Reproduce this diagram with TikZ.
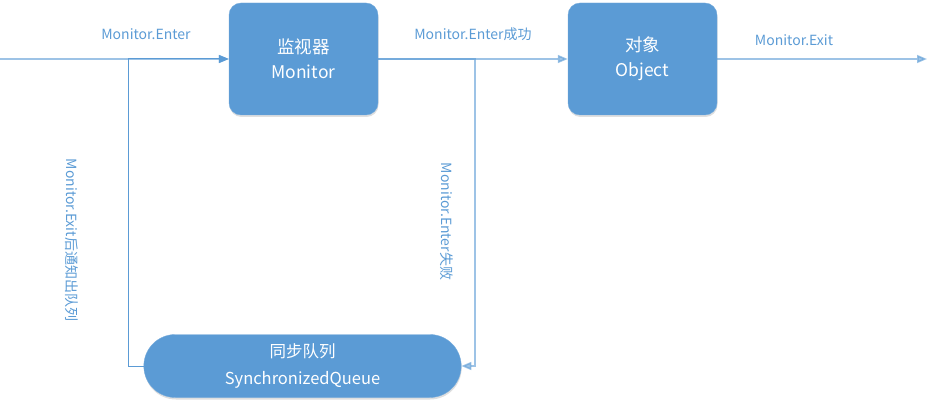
\documentclass[tikz,border=0pt]{standalone}
\usepackage{fontspec}
\setmainfont{Noto Sans CJK SC}
\usetikzlibrary{arrows.meta,shapes.misc,shadows}

\definecolor{FlowBlue}{RGB}{91,155,213}
\definecolor{FlowLight}{RGB}{157,195,230}

\begin{document}
\begin{tikzpicture}[x=1pt,y=-1pt,
    box/.style={draw=FlowBlue!85!white, fill=FlowBlue, text=white, rounded corners=12pt,
        minimum width=149pt, minimum height=112pt, align=center,
        font=\fontsize{17.5}{25}\selectfont,
        drop shadow={opacity=0.25, shadow xshift=0.5pt, shadow yshift=-2pt}},
    queue/.style={box, rounded rectangle, rounded corners=0pt, minimum width=324pt, minimum height=63pt,
        font=\fontsize{16.5}{27}\selectfont},
    flow/.style={draw=FlowBlue, opacity=0.6, line width=1.6pt, -{Triangle[length=10pt,width=8pt]}},
    back/.style={draw=FlowBlue, line width=1pt, -{Triangle[length=10pt,width=8pt]}},
    lbl/.style={text=FlowBlue, font=\fontsize{14}{16}\selectfont}]
    \useasboundingbox (0,0) rectangle (927,406);
    % boxes
    \node[box] (monitor) at (303.5,59) {监视器\\Monitor};
    \node[box] (object) at (642.5,59) {对象\\Object};
    \node[queue] (queue) at (302.5,366) {同步队列\\SynchronizedQueue};
    \coordinate (start) at (0,59);
    \coordinate (finish) at (927,59);
    \coordinate (split) at (475,59);
    \coordinate (join) at (128,59);
    % connectors
    \draw[flow] (start) -- (monitor.west);
    \draw[flow] (monitor.east) -- (object.west);
    \draw[flow] (object.east) -- (finish);
    \draw[flow] (monitor.east) -- (split) |- (queue.east);
    \draw[back] (queue.west) -| (join) -- (monitor.west);
    % labels
    \node[lbl] (enter) at (146,34) {Monitor.Enter};
    \node[lbl] (success) at (473,34) {Monitor.Enter成功};
    \node[lbl] (exit) at (794,40) {Monitor.Exit};
    \node[lbl, rotate=-90] (notify) at (71.5,240) {Monitor.Exit后通知出队列};
    \node[lbl, rotate=-90] (fail) at (446.5,221.5) {Monitor.Enter失败};
\end{tikzpicture}
\end{document}
